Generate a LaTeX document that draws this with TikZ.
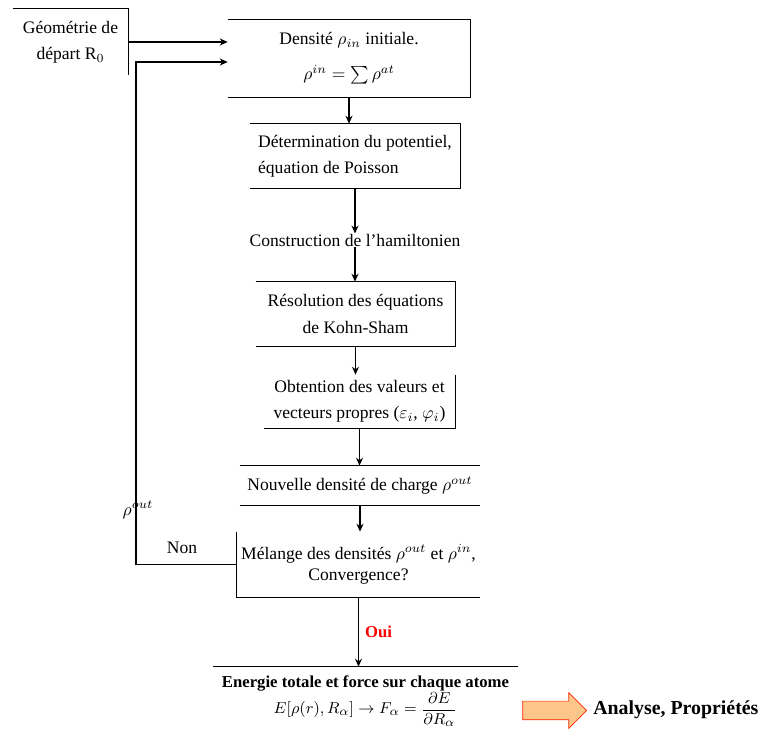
\documentclass[tikz,border=0pt]{standalone}
\usepackage{fontspec}
\setmainfont{Liberation Serif}
\usetikzlibrary{shapes.arrows,arrows.meta}

\begin{document}
\begin{tikzpicture}[
    x=0.02cm, y=-0.02cm,
    every node/.style={
        font=\fontsize{10}{15}\selectfont
    },
    etape/.style={
        align=center,
        inner sep=0pt
    },
    bord/.style={
        draw,
        line width=0.8pt
    },
    fleche/.style={
        draw,
        line width=0.8pt,
        -{Stealth[length=4.5pt,width=4pt]}
    },
    sortie/.style={
        single arrow,
        draw=red!70!orange,
        fill=orange!45,
        minimum height=1.28cm,
        inner xsep=0pt,
        inner ysep=0.18cm,
        single arrow head extend=0.17cm
    },
    ]
    \useasboundingbox (0,0) rectangle (762,746);

    % les etapes
    \node [etape, minimum width=2.30cm, minimum height=1.32cm] (geo) at (70.5,42)
        {G\'eom\'etrie de\\d\'epart R$_0$};
    \node [etape, minimum width=4.84cm, minimum height=1.54cm,
        font=\fontsize{10}{20}\selectfont] (dens) at (349,58.5)
        {Densit\'e $\rho_{in}$ initiale.\\$\rho^{in}=\sum\rho^{at}$};
    \node [etape, align=left, minimum width=4.20cm, minimum height=1.28cm] (pot) at (355,156)
        {D\'etermination du potentiel,\\\'equation de Poisson};
    \node [etape] (ham) at (355,240) {Construction de l'hamiltonien};
    \node [etape, minimum width=3.98cm, minimum height=1.28cm] (ks) at (355.5,314)
        {R\'esolution des \'equations\\de Kohn-Sham};
    \node [etape, minimum width=3.82cm, minimum height=1.06cm] (obt) at (359.5,401.5)
        {Obtention des valeurs et\\vecteurs propres ($\varepsilon_i$, $\varphi_i$)};
    \node [etape, minimum width=4.80cm, minimum height=0.78cm] (nouv) at (360,485.5)
        {Nouvelle densit\'e de charge $\rho^{out}$};
    \node [etape, minimum width=4.86cm, minimum height=1.30cm,
        font=\fontsize{10}{12}\selectfont] (mel) at (358.5,564.5)
        {M\'elange des densit\'es $\rho^{out}$ et $\rho^{in}$,\\Convergence?};
    \node [etape, minimum width=6.10cm, minimum height=1.36cm,
        font=\fontsize{9.5}{15}\selectfont] (ener) at (365.5,701)
        {\textbf{Energie totale et force sur chaque atome}\\
        $E[\rho(r),R_\alpha]\rightarrow F_\alpha=\displaystyle\frac{\partial E}{\partial R_\alpha}$};
    \node [sortie] (fl) at (550,710.5) {};
    \node [anchor=west, inner sep=0pt, font=\bfseries\fontsize{11.3}{13}\selectfont] (ana) at (593,710)
        {Analyse, Propri\'et\'es};

    % les bords
    \draw [bord] (geo.north west) -- (geo.north east) -- (geo.south east);
    \draw [bord] (dens.north west) -- (dens.north east) -- (dens.south east) -- (dens.south west);
    \draw [bord] (pot.north west) -- (pot.north east) -- (pot.south east) -- (pot.south west);
    \draw [bord] (ks.north west) -- (ks.north east) -- (ks.south east) -- (ks.south west);
    \draw [bord] (obt.north east) -- (obt.south east) -- (obt.south west);
    \draw [bord] (nouv.north west) -- (nouv.north east);
    \draw [bord] (nouv.south west) -- (nouv.south east);
    \draw [bord] (mel.north west) -- (mel.south west) -- (mel.south east);
    \draw [bord] (ener.north west) -- (ener.north east);

    % les fleches
    \coordinate (fb) at (136,62);
    \draw [fleche] (geo.east) -- (geo.east -| dens.west);
    \draw [fleche] (dens.south) -- (dens.south |- pot.north);
    \draw [fleche] (pot.south) -- (pot.south |- ham.north);
    \draw [fleche] (ham.south) -- (ham.south |- ks.north);
    \draw [fleche] (ks.south) -- (ks.south |- obt.north);
    \draw [fleche] (obt.south) -- (obt.south |- nouv.north);
    \draw [fleche] (nouv.south) -- (nouv.south |- mel.north);
    \draw [fleche] (mel.south) -- (mel.south |- ener.north)
        node [pos=0.5, right, text=red, font=\bfseries\fontsize{9.5}{12}\selectfont] (oui) {Oui};
    \draw [fleche] (mel.west) -| (fb) -- (fb -| dens.west);
    \node (non) at (182,548) {Non};
    \node (rho) at (138,510) {$\rho^{out}$};
\end{tikzpicture}
\end{document}
